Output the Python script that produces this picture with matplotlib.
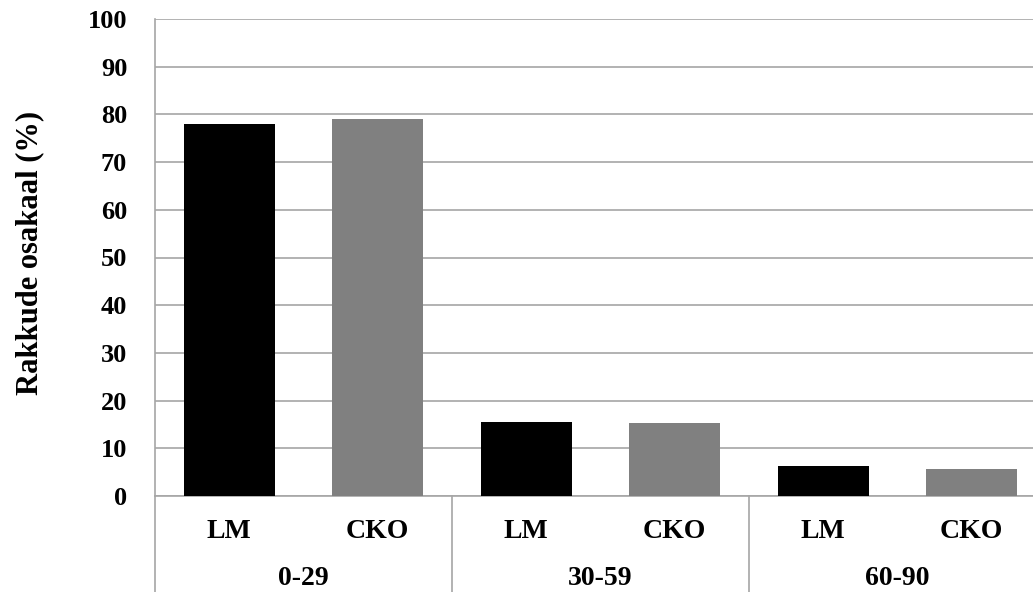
import matplotlib.pyplot as plt
import numpy as np

groups = ['0-29', '30-59', '60-90']
series = ['LM', 'CKO']
lm_values = [78, 15.5, 6.2]
cko_values = [79, 15.3, 5.7]
colors = {'LM': '#000000', 'CKO': '#808080'}

plt.rcParams['font.family'] = ['Liberation Serif', 'DejaVu Serif']
plt.rcParams['font.weight'] = 'bold'
plt.rcParams['axes.labelweight'] = 'bold'

fig = plt.figure(figsize=(10.33, 5.92), dpi=100)
ax = fig.add_axes([155 / 1033, 96 / 592, 891 / 1033, 477 / 592])

# one slot per bar: group i, series j -> position 2*i + j
pos = np.arange(len(groups) * 2)
vals = []
cols = []
labs = []
for i in range(len(groups)):
    vals += [lm_values[i], cko_values[i]]
    cols += [colors['LM'], colors['CKO']]
    labs += series

ax.bar(pos, vals, width=0.61, color=cols, zorder=3)
ax.set_xlim(-0.5, len(pos) - 0.5)
ax.set_ylim(0, 100)
ax.set_yticks(np.arange(0, 101, 10))
ax.tick_params(axis='y', length=0, pad=20, labelsize=19)
ax.set_xticks([])
ax.grid(axis='y', color='#a6a6a6', linewidth=1.2, zorder=0)
for s in ['right', 'top']:
    ax.spines[s].set_visible(False)
ax.spines['left'].set_color('#a6a6a6')
ax.spines['bottom'].set_color('#a6a6a6')
ax.spines['left'].set_linewidth(1.2)
ax.spines['bottom'].set_linewidth(1.2)

ax.set_ylabel('Rakkude osakaal (%)', fontsize=22)
ax.yaxis.set_label_coords(-0.124, 0.51)

# two-level category axis
trans = ax.get_xaxis_transform()
for p, lab in zip(pos, labs):
    ax.text(p, -0.075, lab, transform=trans, ha='center', va='center', fontsize=20)
for i, g in enumerate(groups):
    ax.text(2 * i + 0.5, -0.172, g, transform=trans, ha='center', va='center', fontsize=20)
    ax.plot([2 * i - 0.5, 2 * i - 0.5], [0, -0.25], transform=trans, color='#a6a6a6',
            linewidth=1.2, clip_on=False)

fig.savefig('out.png', dpi=100)
